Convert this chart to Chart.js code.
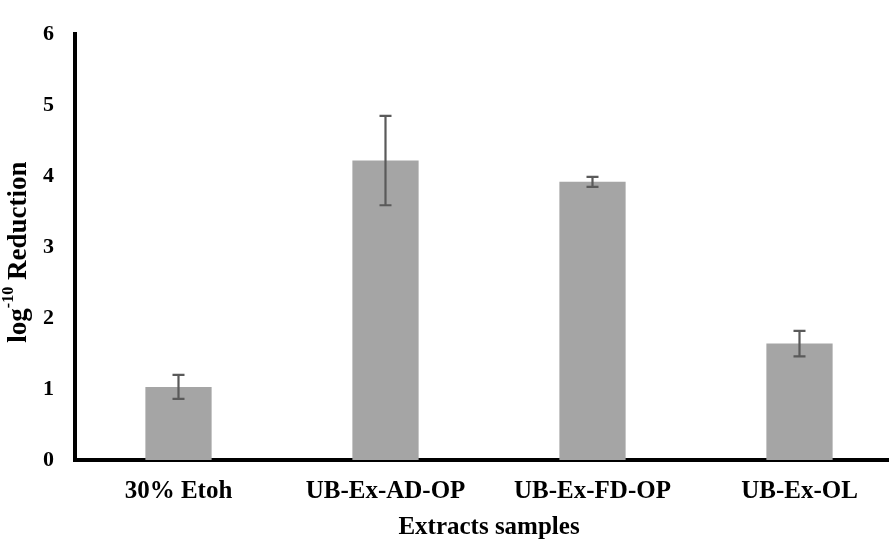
<!DOCTYPE html>
<html>
<head>
<meta charset="utf-8">
<title>log-10 Reduction</title>
<script src="https://cdn.jsdelivr.net/npm/chart.js@4"></script>
<style>
  html, body { margin: 0; padding: 0; background: #fff; overflow: hidden; }
  canvas { display: block; }
</style>
</head>
<body>
<canvas id="myChart" width="905" height="544"></canvas>
<script>
"use strict";

const samples = ["30% Etoh", "UB-Ex-AD-OP", "UB-Ex-FD-OP", "UB-Ex-OL"];
const reduction = [1.03, 4.22, 3.92, 1.64];
const reductionErr = [0.17, 0.63, 0.07, 0.18];
const yTicks = [0, 1, 2, 3, 4, 5, 6];

const serif = "'Liberation Serif', 'Times New Roman', serif";
const barGray = "#a5a5a5";
const whiskerGray = "#5a5a5a";

// whiskers for +/- error on each bar
const errorBars = {
  id: "errorBars",
  afterDatasetsDraw(chart) {
    const { ctx } = chart;
    const x = chart.scales.x;
    const y = chart.scales.y;
    ctx.save();
    ctx.strokeStyle = whiskerGray;
    ctx.lineWidth = 2.2;
    reduction.forEach((v, i) => {
      const cx = x.getPixelForValue(i);
      const hi = y.getPixelForValue(v + reductionErr[i]);
      const lo = y.getPixelForValue(v - reductionErr[i]);
      ctx.beginPath();
      ctx.moveTo(cx, hi);
      ctx.lineTo(cx, lo);
      ctx.moveTo(cx - 6, hi);
      ctx.lineTo(cx + 6, hi);
      ctx.moveTo(cx - 6, lo);
      ctx.lineTo(cx + 6, lo);
      ctx.stroke();
    });
    ctx.restore();
  },
};

// y title with a superscript exponent
const yTitle = {
  id: "yTitle",
  afterDraw(chart) {
    const { ctx, chartArea } = chart;
    const big = "bold 27px " + serif;
    const small = "bold 16px " + serif;
    const parts = [
      { t: "log", f: big, dy: 0 },
      { t: "-10", f: small, dy: -10 },
      { t: " Reduction", f: big, dy: 0 },
    ];
    ctx.save();
    let total = 0;
    parts.forEach((p) => {
      ctx.font = p.f;
      p.w = ctx.measureText(p.t).width;
      total += p.w;
    });
    ctx.translate(19, (chartArea.top + chartArea.bottom) / 2 + 5);
    ctx.rotate(-Math.PI / 2);
    ctx.fillStyle = "#000";
    ctx.textBaseline = "middle";
    let px = -total / 2;
    parts.forEach((p) => {
      ctx.font = p.f;
      ctx.fillText(p.t, px, p.dy);
      px += p.w;
    });
    ctx.restore();
  },
};

const data = {
  labels: samples,
  datasets: [
    {
      data: reduction,
      backgroundColor: barGray,
      categoryPercentage: 1,
      barPercentage: 0.32,
    },
  ],
};

const config = {
  type: "bar",
  data: data,
  plugins: [errorBars, yTitle],
  options: {
    responsive: false,
    animation: false,
    layout: {
      padding: { top: 25, right: 2, left: 0, bottom: 0 },
    },
    scales: {
      x: {
        grid: { display: false, drawTicks: false },
        border: { display: true, color: "#000", width: 4 },
        ticks: {
          color: "#000",
          padding: 17,
          font: { family: serif, size: 25, weight: "bold" },
        },
        title: {
          display: true,
          text: "Extracts samples",
          color: "#000",
          padding: { top: 0, bottom: 1 },
          font: { family: serif, size: 25, weight: "bold" },
        },
        afterFit: (scale) => {
          scale.height = 84;
        },
      },
      y: {
        min: 0,
        max: 6,
        grid: { display: false, drawTicks: false },
        border: { display: true, color: "#000", width: 4 },
        afterBuildTicks: (scale) => {
          scale.ticks = yTicks.map((v) => ({ value: v }));
        },
        ticks: {
          color: "#000",
          padding: 21,
          font: { family: serif, size: 22, weight: "bold" },
        },
        afterFit: (scale) => {
          scale.width = 75;
        },
      },
    },
    plugins: {
      legend: { display: false },
      tooltip: { enabled: false },
    },
  },
};

new Chart(document.getElementById("myChart"), config);
</script>
</body>
</html>
